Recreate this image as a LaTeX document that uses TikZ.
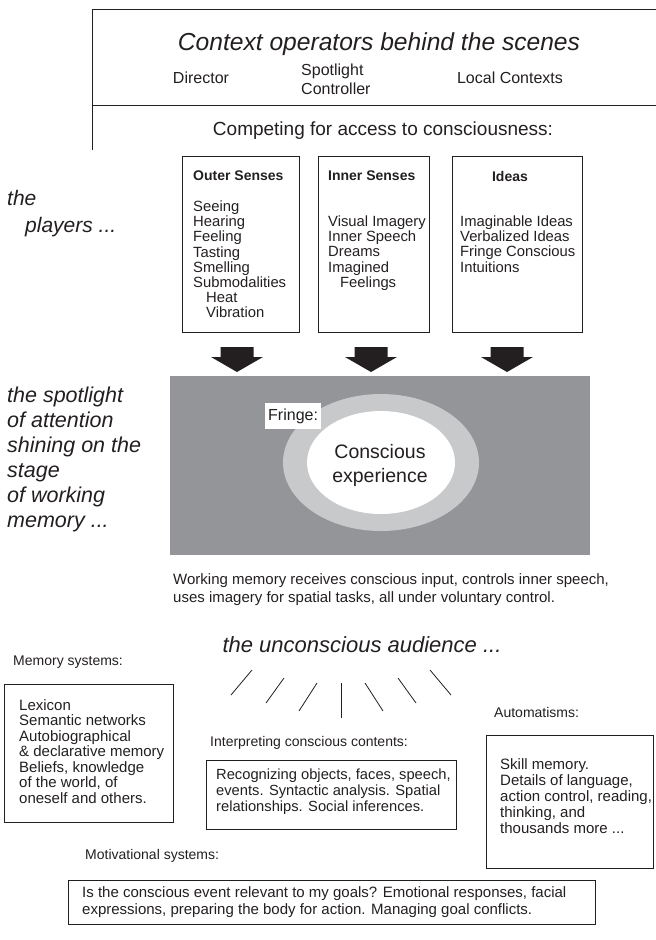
\documentclass[tikz,border=0pt]{standalone}
\usepackage{fontspec}
\setmainfont{Liberation Sans}
\definecolor{stagegray}{RGB}{147,149,152}
\definecolor{fringegray}{RGB}{200,201,203}
\definecolor{ink}{RGB}{35,31,32}
\begin{document}
\begin{tikzpicture}[x=1pt,y=-1pt, every node/.style={text=ink, inner sep=0pt},
  frame/.style={draw=ink, line width=0.9pt},
  boxnode/.style={draw=ink, line width=0.9pt, anchor=north west},
  ital/.style={font=\fontsize{22}{25}\selectfont\itshape},
  side/.style={anchor=north west, align=left, font=\fontsize{21.5}{25}\selectfont\itshape},
  ctx/.style={font=\fontsize{16}{19}\selectfont},
  head/.style={anchor=west, font=\fontsize{14}{15}\selectfont\bfseries},
  body/.style={anchor=north west, align=left, font=\fontsize{14.8}{15.2}\selectfont},
  bbody/.style={anchor=north west, align=left, font=\fontsize{15}{15.8}\selectfont},
  lab/.style={anchor=west, font=\fontsize{14}{16}\selectfont},
  fatarrow/.style={fill=ink},
  ray/.style={draw=ink, line width=0.8pt}]
\useasboundingbox (0,0) rectangle (656,940);

% context frame
\coordinate (ftr) at (656,9);
\coordinate (ftl) at (92,9);
\coordinate (fbl) at (92,150);
\coordinate (fml) at (92,105);
\coordinate (fmr) at (656,105);
\draw[frame] (ftr) -- (ftl) -- (fbl);
\draw[frame] (fml) -- (fmr);
\node[ital, font=\fontsize{24.6}{28}\selectfont\itshape] (title) at (379,44) {Context operators behind the scenes};
\node[ctx] (director) at (201,78) {Director};
\node[ctx, anchor=west, align=left] (spot) at (301,79) {Spotlight\\Controller};
\node[ctx] (local) at (510,78) {Local Contexts};
\node[font=\fontsize{19}{22}\selectfont] (competing) at (383,131) {Competing for access to consciousness:};

% player boxes
\node[boxnode, minimum width=117, minimum height=176] (outerbox) at (182,156) {};
\node[boxnode, minimum width=111, minimum height=176] (innerbox) at (318,156) {};
\node[boxnode, minimum width=130, minimum height=176] (ideabox) at (452,156) {};
\node[head] (outerh) at (193,176) {Outer Senses};
\node[head] (innerh) at (328,176) {Inner Senses};
\node[head, anchor=center] (ideah) at (510,176) {Ideas};
\node[body] (outerb) at (193,200.5) {Seeing\\Hearing\\Feeling\\Tasting\\Smelling\\Submodalities\\\hspace*{13pt}Heat\\\hspace*{13pt}Vibration};
\node[body] (innerb) at (328,215.5) {Visual Imagery\\Inner Speech\\Dreams\\Imagined\\\hspace*{12pt}Feelings};
\node[body] (ideab) at (460,215.5) {Imaginable Ideas\\Verbalized Ideas\\Fringe Conscious\\Intuitions};

% side labels
\node[side, font=\fontsize{21}{27}\selectfont\itshape] (players) at (7,190) {the\\\hspace*{18pt}players ...};
\node[side] (spotlight) at (7,387) {the spotlight\\of attention\\shining on the\\stage\\of working\\memory ...};

% fat arrows
\foreach \cx/\nm in {237/a1,371/a2,507/a3}{
  \fill[fatarrow] (\cx-16.5,347) -- (\cx+16.5,347) -- (\cx+16.5,357) -- (\cx+26,357) -- (\cx,372) -- (\cx-26,357) -- (\cx-16.5,357) -- cycle;
}

% stage
\fill[stagegray] (170,376) rectangle (590,555);
\fill[fringegray] (381,462.5) ellipse [x radius=98pt, y radius=68.5pt];
\fill[white] (381,462.5) ellipse [x radius=74pt, y radius=51.5pt];
\node[fill=white, anchor=west, inner xsep=3pt, inner ysep=5pt, font=\fontsize{16}{18}\selectfont, minimum height=26pt] (fringe) at (265,416) {Fringe:};
\node[align=center, font=\fontsize{19.5}{24}\selectfont] (conscious) at (380,465) {Conscious\\experience};

\node[bbody, font=\fontsize{15}{18}\selectfont] (wm) at (173,573) {Working memory receives conscious input, controls inner speech,\\uses imagery for spatial tasks, all under voluntary control.};

% audience
\node[ital] (audience) at (362,645) {the unconscious audience ...};
\coordinate (r1a) at (231,695); \coordinate (r1b) at (252,670);
\coordinate (r2a) at (266,703); \coordinate (r2b) at (284,678);
\coordinate (r3a) at (299,711); \coordinate (r3b) at (317,683);
\coordinate (r4a) at (341,718); \coordinate (r4b) at (341,683);
\coordinate (r5a) at (383,711); \coordinate (r5b) at (365,683);
\coordinate (r6a) at (416,703); \coordinate (r6b) at (398,678);
\coordinate (r7a) at (451,695); \coordinate (r7b) at (430,670);
\foreach \i in {1,...,7}{\draw[ray] (r\i a) -- (r\i b);}

% memory systems
\node[lab] (memlab) at (13,662) {Memory systems:};
\node[boxnode, minimum width=169, minimum height=138] (membox) at (4,684) {};
\node[bbody, font=\fontsize{15}{15.5}\selectfont] (memtext) at (19,699) {Lexicon\\Semantic networks\\Autobiographical\\\&~declarative memory\\Beliefs, knowledge\\of the world, of\\oneself and others.};

% interpreting
\node[lab] (intlab) at (210,743) {Interpreting conscious contents:};
\node[boxnode, minimum width=250, minimum height=69] (intbox) at (206,760) {};
\node[bbody, font=\fontsize{14.7}{16}\selectfont] (inttext) at (216,769) {Recognizing objects, faces, speech,\\events. Syntactic analysis. Spatial\\relationships. Social inferences.};

% automatisms
\node[lab] (autlab) at (494,712) {Automatisms:};
\node[boxnode, minimum width=167, minimum height=133] (autbox) at (486,735) {};
\node[bbody, font=\fontsize{15}{16}\selectfont] (auttext) at (500,758) {Skill memory.\\Details of language,\\action control, reading,\\thinking, and\\thousands more ...};

% motivational
\node[lab] (motlab) at (85,856) {Motivational systems:};
\node[boxnode, minimum width=527, minimum height=44] (motbox) at (68,880) {};
\node[bbody, font=\fontsize{15}{17}\selectfont] (mottext) at (82,886) {Is the conscious event relevant to my goals? Emotional responses, facial\\expressions, preparing the body for action. Managing goal conflicts.};
\end{tikzpicture}
\end{document}
